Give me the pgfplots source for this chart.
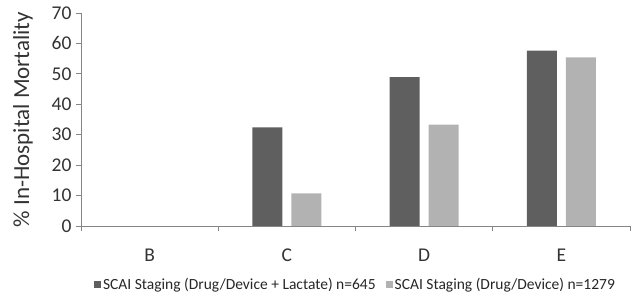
\documentclass[border=0pt]{standalone}
\usepackage{pgfplots}
\pgfplotsset{compat=1.18}
\usepackage{fontspec}
\setmainfont{Carlito}
\definecolor{darkbar}{HTML}{5F5F5F}
\definecolor{lightbar}{HTML}{B2B2B2}
\definecolor{axgray}{HTML}{858585}
\begin{document}
\begin{tikzpicture}
\useasboundingbox (-81pt,-73pt) rectangle (558pt,226pt);
\begin{axis}[
  at={(0pt,0pt)}, anchor=south west,
  scale only axis,
  width=549pt, height=213pt,
  ybar=9pt, bar width=30pt,
  xmin=-0.5, xmax=3.5,
  ymin=0, ymax=70,
  ytick={0,10,...,70},
  xtick={-0.5,0.5,1.5,2.5,3.5},
  xticklabels={},
  extra x ticks={0,1,2,3},
  extra x tick labels={B,C,D,E},
  extra x tick style={major tick length=0pt},
  xticklabel style={yshift=-19pt},
  axis x line=bottom, axis y line=left,
  axis line style={draw=axgray, line width=0.8pt, -},
  tick style={draw=axgray, line width=0.8pt},
  tick align=outside,
  major tick length=5pt,
  tick label style={font=\fontsize{19.5}{22}\selectfont, text=black!80},
  yticklabel style={xshift=-1pt},
  /pgf/number format/assume math mode=true,
  ylabel={\% In-Hospital Mortality},
  ylabel style={at={(axis description cs:-0.1056,0.5)}, anchor=center, rotate=0, font=\fontsize{23}{25}\selectfont, text=black!80},
  legend columns=2,
  legend style={at={(axis description cs:0.5,-0.275)}, anchor=center, draw=none, fill=none,
    font=\fontsize{15.5}{18}\selectfont, text=black!85,
    /tikz/every even column/.append style={column sep=8pt}},
  legend image code/.code={\fill[#1] (0pt,-3.5pt) rectangle (7pt,3.5pt);},
]
\addplot[fill=darkbar, draw=none] coordinates {(1,32.4) (2,48.9) (3,57.6)};
\addplot[fill=lightbar, draw=none] coordinates {(1,10.7) (2,33.3) (3,55.4)};
\legend{SCAI Staging (Drug/Device + Lactate) n=645, SCAI Staging (Drug/Device) n=1279}
\end{axis}
\end{tikzpicture}
\end{document}
